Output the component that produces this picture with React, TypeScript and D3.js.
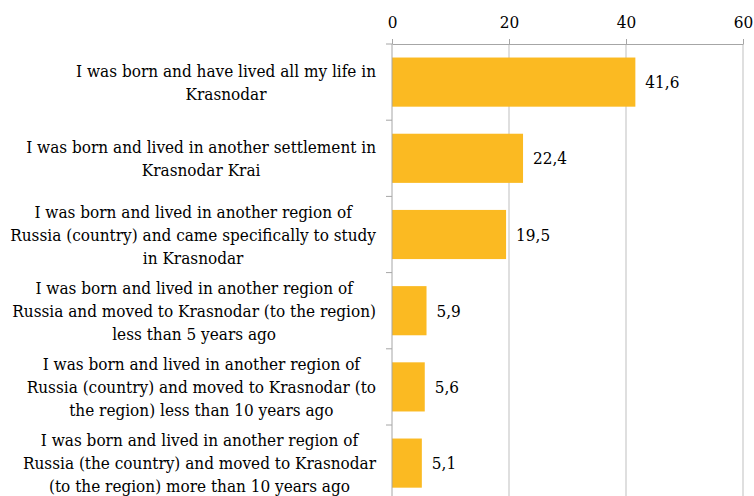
import * as d3 from 'd3'
import React, { useEffect, useRef } from 'react'

// Chart data
const categories: string[][] = [
  ['I was born and have lived all my life in', 'Krasnodar'],
  ['I was born and lived in another settlement in', 'Krasnodar Krai'],
  ['I was born and lived in another region of', 'Russia (country) and came specifically to study', 'in Krasnodar'],
  ['I was born and lived in another region of', 'Russia and moved to Krasnodar (to the region)', 'less than 5 years ago'],
  ['I was born and lived in another region of', 'Russia (country) and moved to Krasnodar (to', 'the region) less than 10 years ago'],
  ['I was born and lived in another region of', 'Russia (the country) and moved to Krasnodar', '(to the region) more than 10 years ago'],
]
const values = [41.6, 22.4, 19.5, 5.9, 5.6, 5.1]
const xTicks = [0, 20, 40, 60]

const W = 754
const H = 496

const App = () => {
  const ref = useRef<SVGSVGElement>(null)

  useEffect(() => {
    const svg = d3.select(ref.current)
    svg.selectAll('*').remove()

    const font = "'DejaVu Serif Condensed', 'DejaVu Serif', serif"
    const fs = 17
    const left = 392
    const right = 743
    const top = 44
    const step = 76.2

    const x = d3.scaleLinear().domain([0, 60]).range([left, right])
    const ids = categories.map((_, i) => String(i))
    const y = d3.scaleBand()
      .domain(ids)
      .range([top, top + step * ids.length])
      .paddingInner(0.355)
      .paddingOuter(0.1775)

    // gridlines
    svg.append('g')
      .selectAll('line')
      .data(xTicks.filter(t => t > 0))
      .enter()
      .append('line')
      .attr('x1', d => x(d))
      .attr('x2', d => x(d))
      .attr('y1', top)
      .attr('y2', H)
      .attr('stroke', '#BFBFBF')
      .attr('stroke-width', 1)

    // bars
    svg.append('g')
      .selectAll('rect')
      .data(values)
      .enter()
      .append('rect')
      .attr('x', x(0))
      .attr('y', (_, i) => y(ids[i])!)
      .attr('width', d => x(d) - x(0))
      .attr('height', y.bandwidth())
      .attr('fill', '#FBBA22')

    // value axis on top
    const axis = svg.append('g')
      .attr('transform', `translate(0,${top})`)
      .call(d3.axisTop(x).tickValues(xTicks).tickSize(5).tickSizeOuter(0).tickPadding(11))
    axis.attr('font-family', null).attr('font-size', null)
    axis.select('.domain').attr('stroke', '#A6A6A6')
    axis.selectAll('.tick line').attr('stroke', '#A6A6A6')
    axis.selectAll('.tick text')
      .style('font-family', font)
      .style('font-size', fs + 'px')
      .attr('fill', '#000')

    // category axis
    svg.append('line')
      .attr('x1', x(0)).attr('x2', x(0))
      .attr('y1', top).attr('y2', H)
      .attr('stroke', '#A6A6A6')
    svg.append('g')
      .selectAll('line')
      .data(d3.range(ids.length + 1))
      .enter()
      .append('line')
      .attr('x1', x(0) - 6)
      .attr('x2', x(0))
      .attr('y1', d => top + d * step)
      .attr('y2', d => top + d * step)
      .attr('stroke', '#A6A6A6')

    // value labels
    svg.append('g')
      .selectAll('text')
      .data(values)
      .enter()
      .append('text')
      .attr('x', d => x(d) + 10)
      .attr('y', (_, i) => y(ids[i])! + y.bandwidth() / 2)
      .attr('dominant-baseline', 'central')
      .style('font-family', font)
      .style('font-size', fs + 'px')
      .text(d => String(d).replace('.', ','))

    // category labels: lines centred inside a block right-aligned to the axis
    const lh = 23
    const labelRight = 376
    categories.forEach((lines, i) => {
      const cy = y(ids[i])! + y.bandwidth() / 2
      const g = svg.append('g')
      const texts = lines.map((ln, j) =>
        g.append('text')
          .attr('y', cy + (j - (lines.length - 1) / 2) * lh)
          .attr('dominant-baseline', 'central')
          .attr('text-anchor', 'middle')
          .style('font-family', font)
          .style('font-size', fs + 'px')
          .text(ln)
      )
      const maxW = d3.max(texts, t => (t.node() as SVGTextElement).getComputedTextLength()) || 0
      texts.forEach(t => t.attr('x', labelRight - maxW / 2))
    })
  }, [])

  return (
    <svg ref={ref} width={W} height={H}
      style={{ position: 'absolute', left: 0, top: 0, background: '#fff' }} />
  )
}

export default App
